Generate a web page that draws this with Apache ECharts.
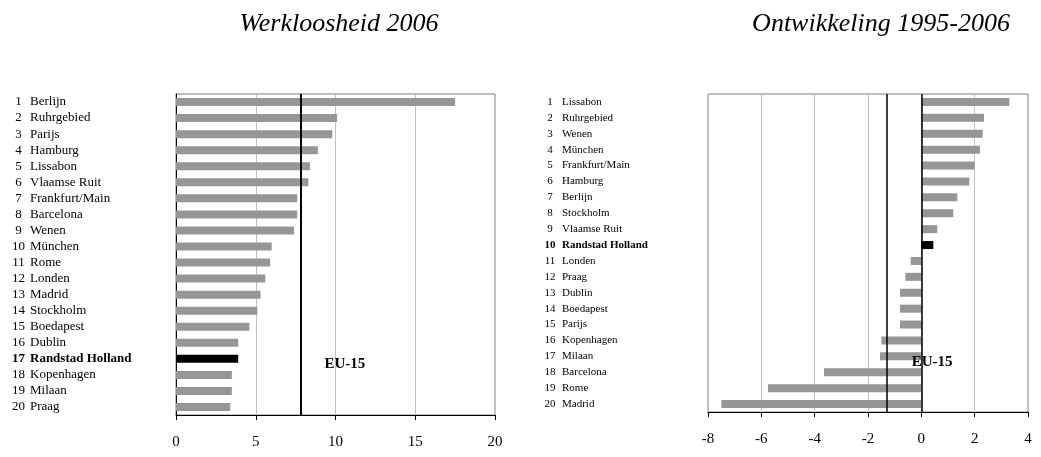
<!DOCTYPE html>
<html><head><meta charset="utf-8">
<script src="https://cdn.jsdelivr.net/npm/echarts@6/dist/echarts.min.js"></script>
<style>html,body{margin:0;padding:0;background:#fff}#c{width:1041px;height:457px}</style>
</head><body><div id="c"></div>
<script>
const leftTitle = 'Werkloosheid 2006';
const rightTitle = 'Ontwikkeling 1995-2006';
const leftNames = ['Berlijn','Ruhrgebied','Parijs','Hamburg','Lissabon','Vlaamse Ruit','Frankfurt/Main','Barcelona','Wenen','München','Rome','Londen','Madrid','Stockholm','Boedapest','Dublin','Randstad Holland','Kopenhagen','Milaan','Praag'];
const leftValues = [17.5,10.1,9.8,8.9,8.4,8.3,7.6,7.6,7.4,6.0,5.9,5.6,5.3,5.1,4.6,3.9,3.9,3.5,3.5,3.4];
const rightNames = ['Lissabon','Ruhrgebied','Wenen','München','Frankfurt/Main','Hamburg','Berlijn','Stockholm','Vlaamse Ruit','Randstad Holland','Londen','Praag','Dublin','Boedapest','Parijs','Kopenhagen','Milaan','Barcelona','Rome','Madrid'];
const rightValues = [3.3,2.35,2.3,2.2,2.0,1.8,1.35,1.2,0.6,0.45,-0.4,-0.6,-0.8,-0.8,-0.8,-1.5,-1.55,-3.65,-5.75,-7.5];
const leftTicks = {min:0, max:20, interval:5};
const rightTicks = {min:-8, max:4, interval:2};
const euLeft = 7.8;
const euRight = -1.3;
const euLabel = 'EU-15';
const highlight = 'Randstad Holland';

const serif = '"Liberation Serif","DejaVu Serif",serif';
const grayBar = '#969696';

function makeLabel(fs, nw, gap) {
  return {
    formatter: (v, i) => v === highlight ? `{nb|${i+1}}{sb|${v}}` : `{n|${i+1}}{s|${v}}`,
    rich: {
      n: {width: nw, align: 'right', fontFamily: serif, fontSize: fs, color: '#000'},
      s: {padding: [0,0,0,gap], fontFamily: serif, fontSize: fs, color: '#000'},
      nb: {width: nw, align: 'right', fontFamily: serif, fontSize: fs, color: '#000', fontWeight: 'bold'},
      sb: {padding: [0,0,0,gap], fontFamily: serif, fontSize: fs, color: '#000', fontWeight: 'bold'}
    }
  };
}

const chart = echarts.init(document.getElementById('c'));
const xAxisCommon = {
  type: 'value',
  axisLine: {show: true, onZero: false, lineStyle: {color: '#000', width: 1}},
  axisTick: {show: true, length: 5, lineStyle: {color: '#000'}},
  axisLabel: {fontFamily: serif, fontSize: 15, color: '#000', margin: 20},
  splitLine: {show: true, lineStyle: {color: '#c0c0c0', width: 1}}
};
const titleStyle = {fontFamily: serif, fontStyle: 'italic', fontWeight: 'normal', fontSize: 26, color: '#000'};
chart.setOption({
  animation: false,
  title: [
    {text: leftTitle, left: 334, top: 6, textAlign: 'center', textStyle: titleStyle},
    {text: rightTitle, left: 876, top: 6, textAlign: 'center', textStyle: titleStyle}
  ],
  grid: [
    {left: 176, right: 546, top: 94, bottom: 42, show: true, borderColor: '#808080', borderWidth: 1, backgroundColor: 'transparent', outerBoundsMode: 'none'},
    {left: 708, right: 13, top: 94, bottom: 45, show: true, borderColor: '#808080', borderWidth: 1, backgroundColor: 'transparent', outerBoundsMode: 'none'}
  ],
  xAxis: [
    Object.assign({}, xAxisCommon, {gridIndex: 0, min: leftTicks.min, max: leftTicks.max, interval: leftTicks.interval}),
    Object.assign({}, xAxisCommon, {gridIndex: 1, min: rightTicks.min, max: rightTicks.max, interval: rightTicks.interval})
  ],
  yAxis: [
    {type: 'category', gridIndex: 0, inverse: true, data: leftNames,
     axisLine: {show: true, onZero: false, lineStyle: {color: '#000', width: 1}}, axisTick: {show: false},
     axisLabel: Object.assign({align: 'left', margin: 164, interval: 0}, makeLabel(13, 13, 5))},
    {type: 'category', gridIndex: 1, inverse: true, data: rightNames,
     axisLine: {show: false, onZero: false}, axisTick: {show: false},
     axisLabel: Object.assign({align: 'left', margin: 163, interval: 0}, makeLabel(11, 10, 7))}
  ],
  series: [
    {type: 'bar', xAxisIndex: 0, yAxisIndex: 0, barWidth: 8,
     data: leftValues.map((v, i) => ({value: v, itemStyle: {color: leftNames[i] === highlight ? '#000' : grayBar}})),
     markLine: {symbol: 'none', silent: true, animation: false, label: {show: false}, lineStyle: {color: '#000', width: 2, type: 'solid'}, data: [{xAxis: euLeft}]},
     markPoint: {symbol: 'circle', symbolSize: 0, silent: true, data: [{coord: [euLeft, highlight]}],
       label: {show: true, position: 'right', distance: 24, offset: [0, 5], formatter: euLabel, fontFamily: serif, fontWeight: 'bold', fontSize: 15, color: '#000'}}
    },
    {type: 'bar', xAxisIndex: 1, yAxisIndex: 1, barWidth: 8,
     data: rightValues.map((v, i) => ({value: v, itemStyle: {color: rightNames[i] === highlight ? '#000' : grayBar}})),
     markLine: {symbol: 'none', silent: true, animation: false, label: {show: false}, lineStyle: {color: '#000', width: 1.5, type: 'solid'}, data: [{xAxis: 0}, {xAxis: euRight}]},
     markPoint: {symbol: 'circle', symbolSize: 0, silent: true, data: [{coord: [euRight, 'Milaan']}],
       label: {show: true, position: 'right', distance: 25, offset: [0, 6], formatter: euLabel, fontFamily: serif, fontWeight: 'bold', fontSize: 15, color: '#000'}}
    }
  ]
});
</script></body></html>
